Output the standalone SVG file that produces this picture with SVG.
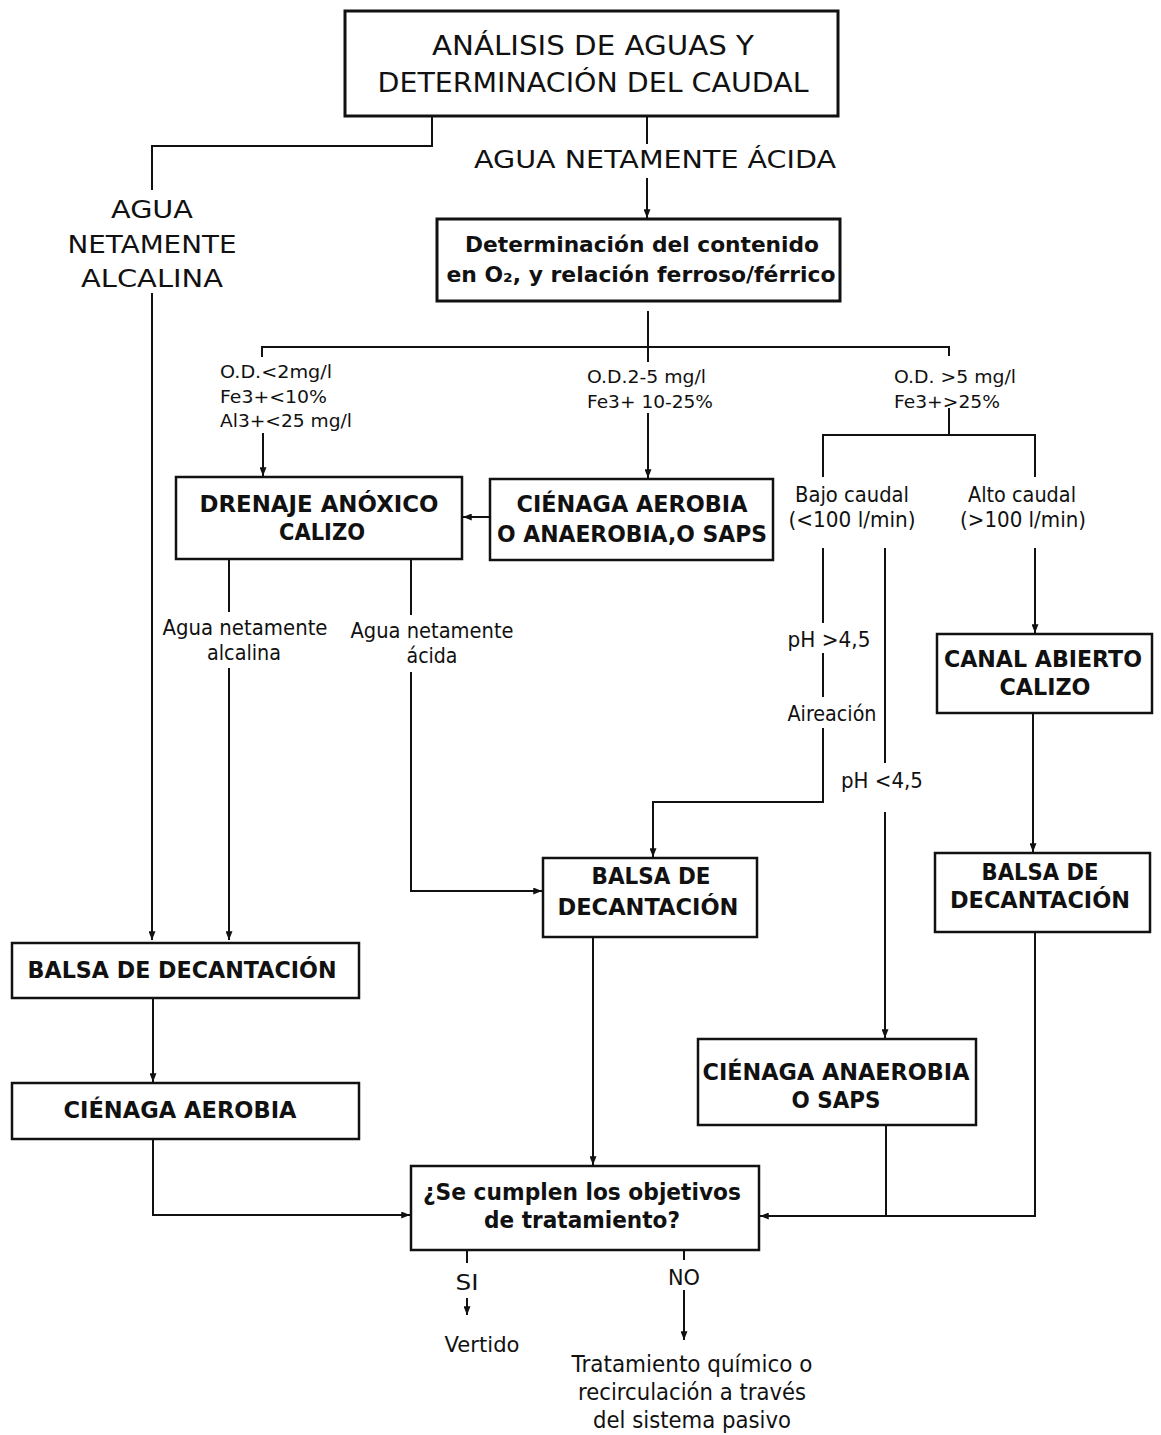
<svg xmlns="http://www.w3.org/2000/svg" width="1161" height="1435" viewBox="0 0 1161 1435">
<style>
text{font-family:"DejaVu Sans","Liberation Sans",sans-serif;fill:#111;}
.b{font-weight:bold;}
.box{fill:#fff;stroke:#111;stroke-width:2.5;}
.thick{stroke-width:3;}
.c path{fill:none;stroke:#111;stroke-width:2;}
</style>
<defs>
<marker id="ah" viewBox="0 0 10 8" refX="10" refY="4" markerWidth="9" markerHeight="7" markerUnits="userSpaceOnUse" orient="auto">
<path d="M0,0 L10,4 L0,8 z" fill="#111"/>
</marker>
</defs>
<rect width="1161" height="1435" fill="#fff"/>

<g class="c" id="connectors">
<path d="M432,116 V146 H152 V190"/>
<path d="M152,293 V940" marker-end="url(#ah)"/>
<path d="M647,116 V144"/>
<path d="M647,178 V218" marker-end="url(#ah)"/>
<path d="M648,311 V362"/>
<path d="M262,357 V347 H949 V356"/>
<path d="M263,433 V476" marker-end="url(#ah)"/>
<path d="M648,413 V478" marker-end="url(#ah)"/>
<path d="M949,408 V435"/>
<path d="M823,477 V435 H1035 V477"/>
<path d="M490,517 H463" marker-end="url(#ah)"/>
<path d="M229,560 V612"/>
<path d="M229,668 V940" marker-end="url(#ah)"/>
<path d="M411,560 V615"/>
<path d="M411,672 V891 H542" marker-end="url(#ah)"/>
<path d="M823,548 V623"/>
<path d="M823,653 V697"/>
<path d="M823,728 V802 H653 V857" marker-end="url(#ah)"/>
<path d="M885,548 V763"/>
<path d="M885,812 V1038" marker-end="url(#ah)"/>
<path d="M1035,548 V633" marker-end="url(#ah)"/>
<path d="M1033,713 V852" marker-end="url(#ah)"/>
<path d="M153,998 V1082" marker-end="url(#ah)"/>
<path d="M153,1139 V1215 H410" marker-end="url(#ah)"/>
<path d="M593,937 V1165" marker-end="url(#ah)"/>
<path d="M886,1125 V1216"/>
<path d="M1035,932 V1216 H760" marker-end="url(#ah)"/>
<path d="M467,1250 V1263"/>
<path d="M467,1298 V1315" marker-end="url(#ah)"/>
<path d="M684,1250 V1260"/>
<path d="M684,1290 V1340" marker-end="url(#ah)"/>
</g>

<g id="labels">
<text x="655" y="168" font-size="25" text-anchor="middle" textLength="362" lengthAdjust="spacingAndGlyphs">AGUA NETAMENTE ÁCIDA</text>
<text x="152" y="218" font-size="25" text-anchor="middle" textLength="82" lengthAdjust="spacingAndGlyphs">AGUA</text>
<text x="152" y="253" font-size="25" text-anchor="middle" textLength="169" lengthAdjust="spacingAndGlyphs">NETAMENTE</text>
<text x="152" y="287" font-size="25" text-anchor="middle" textLength="142" lengthAdjust="spacingAndGlyphs">ALCALINA</text>
<text x="220" y="378" font-size="18.5" textLength="112" lengthAdjust="spacingAndGlyphs">O.D.&lt;2mg/l</text>
<text x="220" y="403" font-size="18.5" textLength="107" lengthAdjust="spacingAndGlyphs">Fe3+&lt;10%</text>
<text x="220" y="427" font-size="18.5" textLength="132" lengthAdjust="spacingAndGlyphs">Al3+&lt;25 mg/l</text>
<text x="587" y="383" font-size="18.5" textLength="119" lengthAdjust="spacingAndGlyphs">O.D.2-5 mg/l</text>
<text x="587" y="408" font-size="18.5" textLength="126" lengthAdjust="spacingAndGlyphs">Fe3+ 10-25%</text>
<text x="894" y="383" font-size="18.5" textLength="122" lengthAdjust="spacingAndGlyphs">O.D. &gt;5 mg/l</text>
<text x="894" y="408" font-size="18.5" textLength="106" lengthAdjust="spacingAndGlyphs">Fe3+&gt;25%</text>
<text x="852" y="502" font-size="20.5" text-anchor="middle" textLength="114" lengthAdjust="spacingAndGlyphs">Bajo caudal</text>
<text x="852" y="527" font-size="20.5" text-anchor="middle" textLength="127" lengthAdjust="spacingAndGlyphs">(&lt;100 l/min)</text>
<text x="1022" y="502" font-size="20.5" text-anchor="middle" textLength="108" lengthAdjust="spacingAndGlyphs">Alto caudal</text>
<text x="1023" y="527" font-size="20.5" text-anchor="middle" textLength="126" lengthAdjust="spacingAndGlyphs">(&gt;100 l/min)</text>
<text x="245" y="635" font-size="21.5" text-anchor="middle" textLength="165" lengthAdjust="spacingAndGlyphs">Agua netamente</text>
<text x="244" y="660" font-size="21.5" text-anchor="middle" textLength="74" lengthAdjust="spacingAndGlyphs">alcalina</text>
<text x="432" y="638" font-size="21.5" text-anchor="middle" textLength="163" lengthAdjust="spacingAndGlyphs">Agua netamente</text>
<text x="432" y="663" font-size="21.5" text-anchor="middle" textLength="51" lengthAdjust="spacingAndGlyphs">ácida</text>
<text x="829" y="647" font-size="21.5" text-anchor="middle" textLength="83" lengthAdjust="spacingAndGlyphs">pH &gt;4,5</text>
<text x="832" y="721" font-size="20.5" text-anchor="middle" textLength="89" lengthAdjust="spacingAndGlyphs">Aireación</text>
<text x="882" y="788" font-size="21.5" text-anchor="middle" textLength="82" lengthAdjust="spacingAndGlyphs">pH &lt;4,5</text>
<text x="467" y="1290" font-size="22" text-anchor="middle" textLength="23" lengthAdjust="spacingAndGlyphs">SI</text>
<text x="482" y="1352" font-size="22" text-anchor="middle" textLength="75" lengthAdjust="spacingAndGlyphs">Vertido</text>
<text x="684" y="1285" font-size="22" text-anchor="middle" textLength="32" lengthAdjust="spacingAndGlyphs">NO</text>
<text x="692" y="1372" font-size="22.5" text-anchor="middle" textLength="241" lengthAdjust="spacingAndGlyphs">Tratamiento químico o</text>
<text x="692" y="1400" font-size="22.5" text-anchor="middle" textLength="228" lengthAdjust="spacingAndGlyphs">recirculación a través</text>
<text x="692" y="1428" font-size="22.5" text-anchor="middle" textLength="198" lengthAdjust="spacingAndGlyphs">del sistema pasivo</text>
</g>

<g id="n-analisis">
<rect class="box thick" x="345" y="11" width="493" height="105"/>
<text x="593" y="55" font-size="27" text-anchor="middle" textLength="322" lengthAdjust="spacingAndGlyphs">ANÁLISIS DE AGUAS Y</text>
<text x="593" y="92" font-size="27" text-anchor="middle" textLength="431" lengthAdjust="spacingAndGlyphs">DETERMINACIÓN DEL CAUDAL</text>
</g>
<g id="n-determinacion">
<rect class="box thick" x="437" y="219" width="403" height="82"/>
<text class="b" x="642" y="252" font-size="21" text-anchor="middle" textLength="354" lengthAdjust="spacingAndGlyphs">Determinación del contenido</text>
<text class="b" x="641" y="282" font-size="21" text-anchor="middle" textLength="389" lengthAdjust="spacingAndGlyphs">en O₂, y relación ferroso/férrico</text>
</g>
<g id="n-drenaje">
<rect class="box" x="176" y="477" width="286" height="82"/>
<text class="b" x="319" y="512" font-size="23" text-anchor="middle" textLength="239" lengthAdjust="spacingAndGlyphs">DRENAJE ANÓXICO</text>
<text class="b" x="322" y="540" font-size="23" text-anchor="middle" textLength="86" lengthAdjust="spacingAndGlyphs">CALIZO</text>
</g>
<g id="n-cienaga-aerobia-anaerobia">
<rect class="box" x="490" y="479" width="283" height="81"/>
<text class="b" x="632" y="512" font-size="23" text-anchor="middle" textLength="231" lengthAdjust="spacingAndGlyphs">CIÉNAGA AEROBIA</text>
<text class="b" x="632" y="542" font-size="23" text-anchor="middle" textLength="270" lengthAdjust="spacingAndGlyphs">O ANAEROBIA,O SAPS</text>
</g>
<g id="n-canal">
<rect class="box" x="937" y="634" width="215" height="79"/>
<text class="b" x="1043" y="667" font-size="23" text-anchor="middle" textLength="198" lengthAdjust="spacingAndGlyphs">CANAL ABIERTO</text>
<text class="b" x="1045" y="695" font-size="23" text-anchor="middle" textLength="91" lengthAdjust="spacingAndGlyphs">CALIZO</text>
</g>
<g id="n-balsa-centro">
<rect class="box" x="543" y="858" width="214" height="79"/>
<text class="b" x="651" y="884" font-size="23" text-anchor="middle" textLength="119" lengthAdjust="spacingAndGlyphs">BALSA DE</text>
<text class="b" x="648" y="915" font-size="23" text-anchor="middle" textLength="181" lengthAdjust="spacingAndGlyphs">DECANTACIÓN</text>
</g>
<g id="n-balsa-derecha">
<rect class="box" x="935" y="853" width="215" height="79"/>
<text class="b" x="1040" y="880" font-size="23" text-anchor="middle" textLength="117" lengthAdjust="spacingAndGlyphs">BALSA DE</text>
<text class="b" x="1040" y="908" font-size="23" text-anchor="middle" textLength="180" lengthAdjust="spacingAndGlyphs">DECANTACIÓN</text>
</g>
<g id="n-balsa-izquierda">
<rect class="box" x="12" y="943" width="347" height="55"/>
<text class="b" x="182" y="978" font-size="23" text-anchor="middle" textLength="309" lengthAdjust="spacingAndGlyphs">BALSA DE DECANTACIÓN</text>
</g>
<g id="n-cienaga-aerobia">
<rect class="box" x="12" y="1083" width="347" height="56"/>
<text class="b" x="180" y="1118" font-size="23" text-anchor="middle" textLength="233" lengthAdjust="spacingAndGlyphs">CIÉNAGA AEROBIA</text>
</g>
<g id="n-cienaga-anaerobia">
<rect class="box" x="698" y="1039" width="278" height="86"/>
<text class="b" x="836" y="1080" font-size="23" text-anchor="middle" textLength="267" lengthAdjust="spacingAndGlyphs">CIÉNAGA ANAEROBIA</text>
<text class="b" x="836" y="1108" font-size="23" text-anchor="middle" textLength="89" lengthAdjust="spacingAndGlyphs">O SAPS</text>
</g>
<g id="n-objetivos">
<rect class="box" x="411" y="1166" width="348" height="84"/>
<text class="b" x="582" y="1200" font-size="23" text-anchor="middle" textLength="318" lengthAdjust="spacingAndGlyphs">¿Se cumplen los objetivos</text>
<text class="b" x="582" y="1228" font-size="23" text-anchor="middle" textLength="196" lengthAdjust="spacingAndGlyphs">de tratamiento?</text>
</g>
</svg>
